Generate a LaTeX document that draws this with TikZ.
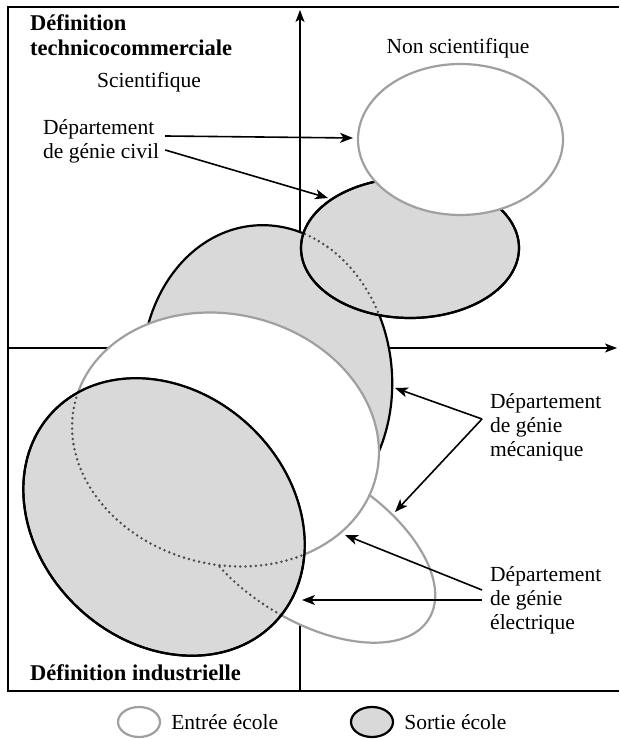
\documentclass[tikz,border=0pt]{standalone}
\usepackage{fontspec}
\setmainfont{Liberation Serif}
\usetikzlibrary{arrows.meta,positioning,shapes.geometric}
\definecolor{entreegray}{RGB}{160,160,160}
\definecolor{sortiefill}{RGB}{217,217,217}
\definecolor{hiddengray}{RGB}{80,80,80}

\tikzset{
    entree/.style={draw=entreegray, fill=white, line width=2.2pt},
    sortie/.style={draw=black, fill=sortiefill, line width=2.2pt},
    hidden/.style={draw=hiddengray, line width=2.8pt, line cap=round, dash pattern=on 0pt off 5.2pt},
    fleche/.style={line width=1.6pt, -{Stealth[length=13pt,width=10pt,inset=3.5pt]}},
    axe/.style={line width=1.1pt, -{Stealth[length=12pt,width=9pt,inset=3pt]}},
    titre/.style={font=\fontsize{22.5}{25}\selectfont\bfseries, align=left},
    dept/.style={align=left},
    % ellipses (centre, rotation, rayons)
    mecaS/.style={shift={(267,361)}, rotate=5, x radius=125, y radius=153},
    civS/.style={shift={(410,491)}, x radius=109, y radius=70},
    nsE/.style={shift={(460.5,599.5)}, x radius=102.5, y radius=75.5},
    elecE/.style={shift={(310,194)}, rotate=-32, x radius=140, y radius=75},
    mecaE/.style={shift={(225.5,299.5)}, rotate=-14, x radius=155, y radius=125},
    elecS/.style={shift={(164,222)}, rotate=-43, x radius=153, y radius=125},
}

\begin{document}
\begin{tikzpicture}[x=1pt, y=1pt, inner sep=3pt, font=\fontsize{21.5}{24}\selectfont]
    \useasboundingbox (0,0) rectangle (619,739);
    % frame
    \draw[line width=2.5pt] (619,732) -- (8,732) -- (8,48) -- (619,48);
    % axes
    \draw[axe] (8,391) -- (617,391);
    \draw[axe] (300,48) -- (300,729);
    % mecanique (sortie) and civil (sortie)
    \filldraw[sortie, mecaS] (0,0) ellipse [];
    \filldraw[sortie, civS] (0,0) ellipse [];
    \begin{scope}
        \clip[civS] (0,0) ellipse [];
        \draw[hidden, mecaS] (0,0) ellipse [];
    \end{scope}
    \draw[sortie, fill=none, civS] (0,0) ellipse [];
    % entries
    \filldraw[entree, nsE] (0,0) ellipse [];
    \filldraw[entree, elecE] (0,0) ellipse [];
    \filldraw[entree, mecaE] (0,0) ellipse [];
    % electrique (sortie) with hidden outlines
    \filldraw[sortie, elecS] (0,0) ellipse [];
    \begin{scope}
        \clip[elecS] (0,0) ellipse [];
        \draw[hidden, elecE] (0,0) ellipse [];
        \fill[sortiefill, mecaE] (0,0) ellipse [];
        \draw[hidden, mecaE] (0,0) ellipse [];
    \end{scope}
    \draw[sortie, fill=none, elecS] (0,0) ellipse [];
    % labels
    \node[titre, anchor=west] (defTech) at (27,703.5) {Définition\\technicocommerciale};
    \node (nonSci) at (458,691) {Non scientifique};
    \node (sci) at (149,657) {Scientifique};
    \node[dept, anchor=west] (civil) at (40,597.5) {Département\\de génie civil};
    \node[dept, anchor=west] (meca) at (487,312) {Département\\de génie\\mécanique};
    \node[dept, anchor=west] (elec) at (487,139) {Département\\de génie\\électrique};
    \node[titre, anchor=west] (defInd) at (27,66) {Définition industrielle};
    % arrows
    \coordinate (nsTip) at (353,601);
    \coordinate (civTip) at (328,541);
    \coordinate (mecaTipA) at (395,351);
    \coordinate (mecaTipB) at (395,227);
    \coordinate (elecTipA) at (345,204);
    \coordinate (elecTipB) at (302,139);
    \draw[fleche] ([shift={(3,5.5)}]civil.east) -- (nsTip);
    \draw[fleche] ([shift={(3,-8.5)}]civil.east) -- (civTip);
    \draw[fleche] ([shift={(-5,8)}]meca.west) -- (mecaTipA);
    \draw[fleche] ([shift={(-5,8)}]meca.west) -- (mecaTipB);
    \draw[fleche] ([shift={(-5,10)}]elec.west) -- (elecTipA);
    \draw[fleche] ([shift={(-5,0)}]elec.west) -- (elecTipB);
    % legend
    \node[entree, ellipse, minimum width=42pt, minimum height=30pt, inner sep=0pt] (legEntree) at (139,17) {};
    \node[right=7pt of legEntree] (txtEntree) {Entrée école};
    \node[sortie, ellipse, minimum width=42pt, minimum height=30pt, inner sep=0pt] (legSortie) at (372,17) {};
    \node[right=7pt of legSortie] (txtSortie) {Sortie école};
\end{tikzpicture}
\end{document}
